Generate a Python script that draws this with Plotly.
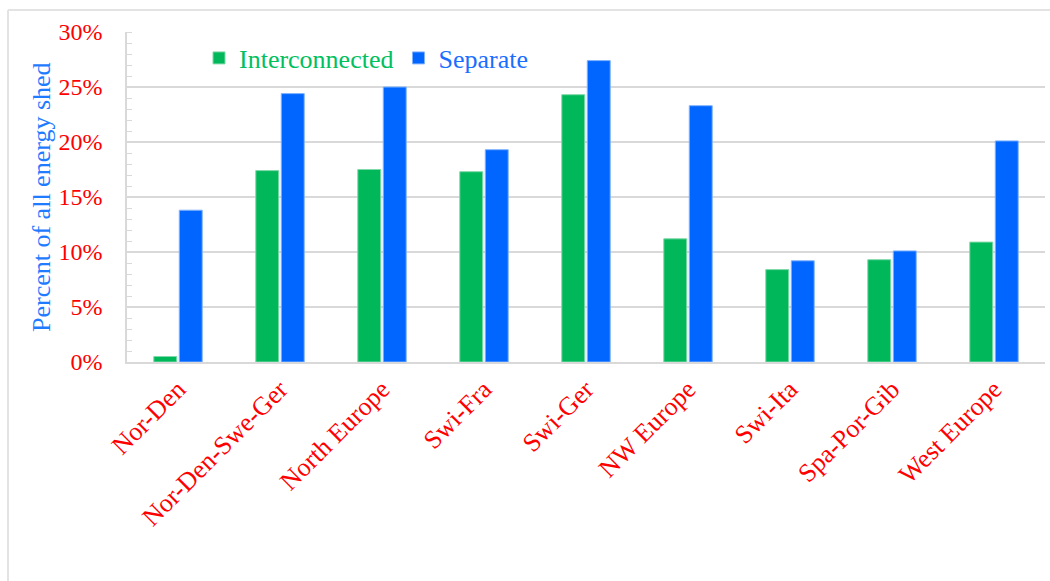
import plotly.graph_objects as go

categories = ["Nor-Den", "Nor-Den-Swe-Ger", "North Europe", "Swi-Fra", "Swi-Ger",
              "NW Europe", "Swi-Ita", "Spa-Por-Gib", "West Europe"]
interconnected = [0.005, 0.174, 0.175, 0.173, 0.243, 0.112, 0.084, 0.093, 0.109]
separate = [0.138, 0.244, 0.250, 0.193, 0.274, 0.233, 0.092, 0.101, 0.201]
y_ticks = [0, 0.05, 0.10, 0.15, 0.20, 0.25, 0.30]
y_tick_labels = ["0%", "5%", "10%", "15%", "20%", "25%", "30%"]

GREEN = "#00B85A"
BLUE = "#0066FF"
FONT = "Liberation Serif, Times New Roman, serif"

fig = go.Figure()
fig.add_trace(go.Bar(
    x=categories, y=interconnected,
    name="<span style='color:#00C060'>Interconnected</span>",
    marker=dict(color=GREEN, line=dict(color="#7FD9A8", width=1)),
))
fig.add_trace(go.Bar(
    x=categories, y=separate,
    name="<span style='color:#1A6EFF'>Separate</span>",
    marker=dict(color=BLUE, line=dict(color="#80B3FF", width=1)),
))

W, H = 1050, 581
L, R, T, B = 127, 5, 32, 219
pw, ph = W - L - R, H - T - B

def px(x):
    return (x - L) / pw

def py(y):
    return (H - B - y) / ph

fig.update_layout(
    width=W, height=H,
    margin=dict(l=L, r=R, t=T, b=B),
    paper_bgcolor="white", plot_bgcolor="white",
    barmode="group", bargap=0.5, bargroupgap=0.1,
    font=dict(family=FONT, size=24, color="red"),
    showlegend=True,
    legend=dict(
        orientation="h", x=px(199), y=py(58), xanchor="left", yanchor="middle",
        font=dict(family=FONT, size=26), bgcolor="rgba(0,0,0,0)",
        itemwidth=30, tracegroupgap=0,
    ),
    xaxis=dict(
        tickangle=-45, tickfont=dict(family=FONT, size=26, color="red"),
        showline=True, linecolor="#D9D9D9", linewidth=1.5,
        showgrid=False, ticks="", fixedrange=True,
    ),
    yaxis=dict(
        range=[0, 0.30], tickvals=y_ticks, ticktext=y_tick_labels,
        tickfont=dict(family=FONT, size=24, color="red"),
        showgrid=True, gridcolor="#D9D9D9", gridwidth=1.5,
        showline=True, linecolor="#D9D9D9", linewidth=1.5,
        ticks="", ticklabelstandoff=18, zeroline=False,
        minor=dict(dtick=0.01, ticks="inside", ticklen=5, tickcolor="#D9D9D9",
                   tickwidth=1, showgrid=False),
        fixedrange=True,
    ),
    annotations=[
        dict(text="Percent of all energy shed", xref="paper", yref="paper",
             x=px(41), y=0.5, xanchor="center", yanchor="middle", textangle=-90,
             showarrow=False, font=dict(family=FONT, size=26, color="#1F7BFF")),
    ],
    shapes=[
        dict(type="line", xref="paper", yref="paper",
             x0=px(8), x1=px(8), y0=py(600), y1=py(10),
             line=dict(color="#E3E3E3", width=2)),
        dict(type="line", xref="paper", yref="paper",
             x0=px(8), x1=px(1060), y0=py(10), y1=py(10),
             line=dict(color="#E3E3E3", width=2)),
    ],
)

fig.write_html("out.html")
